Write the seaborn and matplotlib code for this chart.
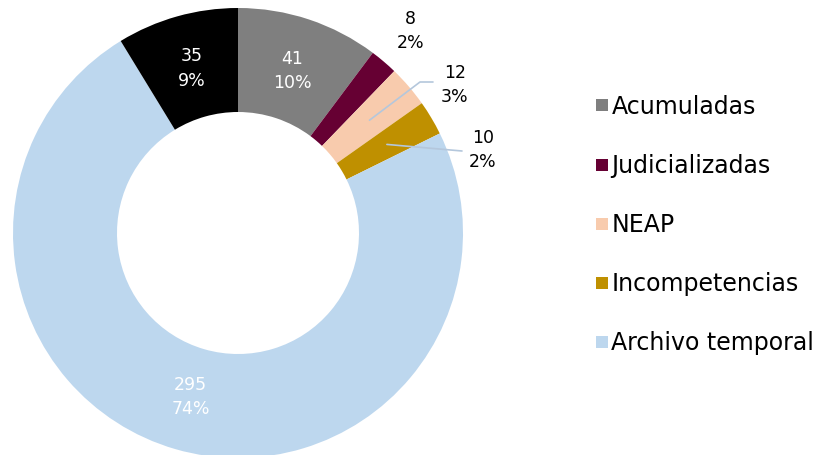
import numpy as np
import matplotlib
matplotlib.use("Agg")
import matplotlib.pyplot as plt
import seaborn as sns
from matplotlib.lines import Line2D

categories = ["Acumuladas", "Judicializadas", "NEAP", "Incompetencias", "Archivo temporal", ""]
values = [41, 8, 12, 10, 295, 35]
colors = ["#7F7F7F", "#660033", "#F8CBAD", "#BF9000", "#BDD7EE", "#000000"]

sns.set_theme(style="white")
plt.rcParams["font.family"] = ["DejaVu Sans"]

W, H = 827, 455
fig = plt.figure(figsize=(W / 100, H / 100), dpi=100)
ax = fig.add_axes([0, 0, 1, 1])
R = 225.0
cx, cy = 238.0, 233.0

wedges, _ = ax.pie(values, colors=colors, startangle=90, counterclock=False,
                   radius=1.0, wedgeprops=dict(width=(225 - 121) / 225, linewidth=0))
ax.set_xlim(-cx / R, (W - cx) / R)
ax.set_ylim(-(H - cy) / R, cy / R)
ax.set_aspect("auto")
ax.axis("off")

total = sum(values)
cum = np.cumsum([0] + values)
mids = [(cum[i] + values[i] / 2) / total * 2 * np.pi for i in range(len(values))]

def pt(angle, r):
    return r * np.sin(angle), r * np.cos(angle)

fs = 12.5
for i, v in enumerate(values):
    pct = f"{round(v / total * 100):d}%"
    txt = f"{v}\n{pct}"
    if i in (0, 4, 5):
        x, y = pt(mids[i], 0.76)
        ax.text(x, y, txt, ha="center", va="center", color="white", fontsize=fs, linespacing=1.45)
    elif i == 1:
        x, y = pt(mids[i], 1.18)
        ax.text(x, y, txt, ha="center", va="center", color="black", fontsize=fs, linespacing=1.45)

line_col = "#B4C7DC"
# NEAP label with leader line
x0, y0 = pt(mids[2], 0.77)
ax.plot([x0, 182 / R, 195 / R], [y0, 151 / R, 151 / R], color=line_col, lw=1.2)
ax.text(217 / R, 148 / R, f"{values[2]}\n{round(values[2] / total * 100)}%", ha="center",
        va="center", color="black", fontsize=fs, linespacing=1.45)
# Incompetencias label with leader line
x0, y0 = pt(mids[3], 0.77)
ax.plot([x0, 224 / R], [y0, 82 / R], color=line_col, lw=1.2)
ax.text(245 / R, 83 / R, f"{values[3]}\n{round(values[3] / total * 100)}%", ha="center",
        va="center", color="black", fontsize=fs, linespacing=1.45)

handles = [Line2D([0], [0], marker="s", linestyle="none", markersize=8.5,
                  markerfacecolor=colors[i], markeredgewidth=0) for i in range(5)]
leg = fig.legend(handles, categories[:5], loc="center left", bbox_to_anchor=(583 / W, 1 - 225 / H),
                 frameon=False, fontsize=17, handlelength=0.6, handletextpad=0.1,
                 labelspacing=1.49, borderpad=0, labelcolor="black")

fig.savefig("out.png", dpi=100)
